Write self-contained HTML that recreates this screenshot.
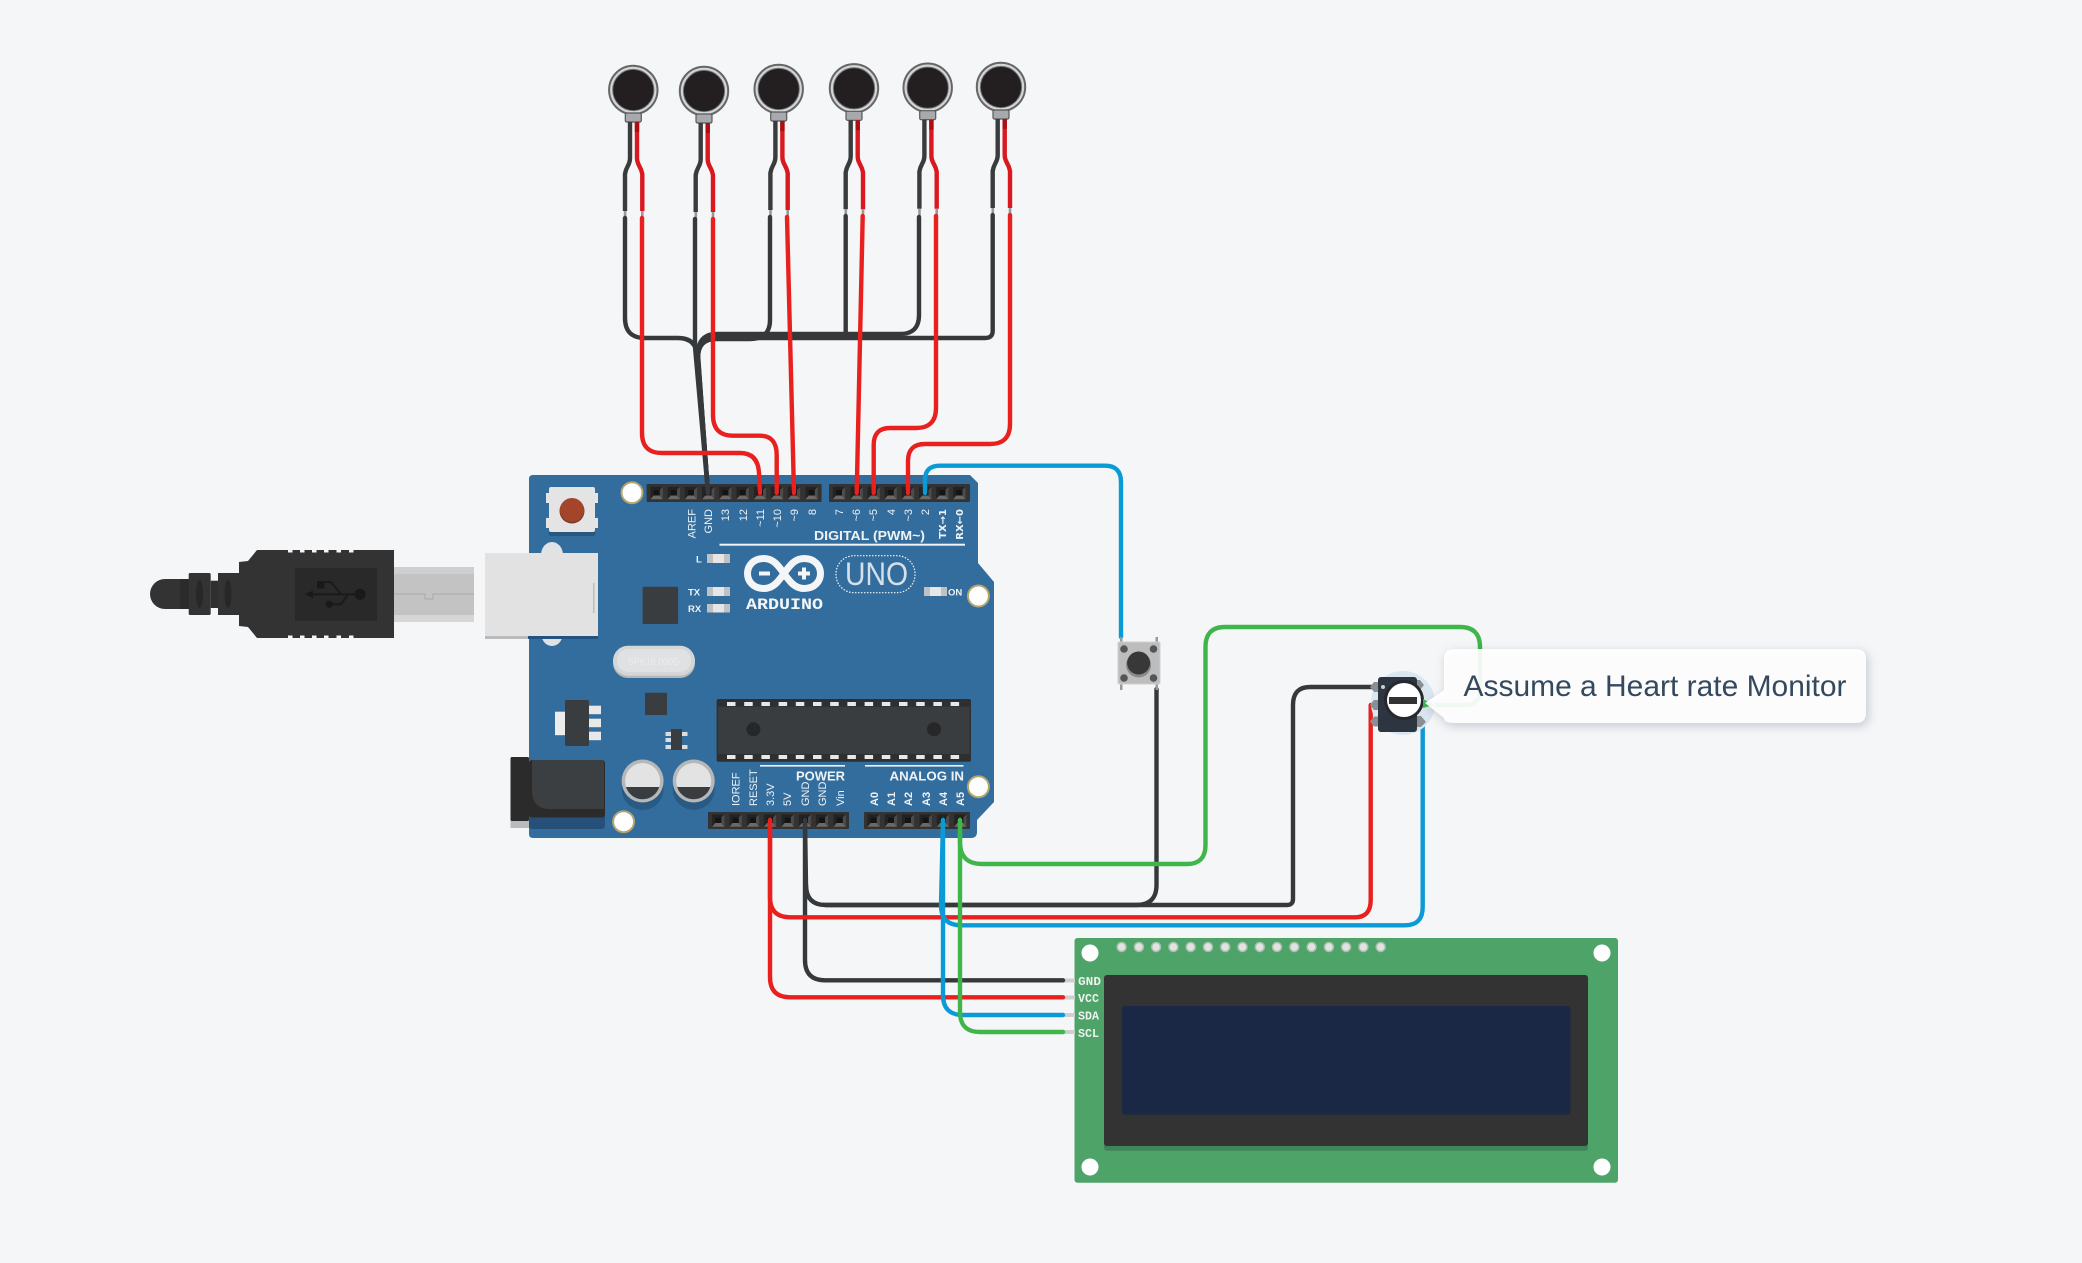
<!DOCTYPE html>
<html>
<head>
<meta charset="utf-8">
<title>Arduino circuit</title>
<style>
html,body{margin:0;padding:0;background:#f4f6f8;width:2082px;height:1263px;overflow:hidden}
svg{display:block;position:absolute;left:0;top:0}
text{font-family:"Liberation Sans",sans-serif}
.w{fill:none;stroke-width:4.4;stroke-linecap:round;stroke-linejoin:round}
.r{stroke:#e8211f}.k{stroke:#36393b}.g{stroke:#3fb54a}.b{stroke:#0a9bd6}
.l{fill:#eef2f5;font-size:11px}
</style>
</head>
<body>
<svg width="2082" height="1263" viewBox="0 0 2082 1263" xmlns="http://www.w3.org/2000/svg">
<defs>
<g id="s">
  <rect x="-6.200" y="-6.200" width="12.400" height="12.400" fill="#232323"/>
  <polygon points="-6.200,6.200 6.200,6.200 3,2.500 -3,2.500" fill="#6a6a6a"/>
  <polygon points="6.200,-6.200 6.200,6.200 3,2.500 3,-3" fill="#4c4c4c"/>
  <rect x="-3" y="-3" width="6" height="5.500" fill="#141414"/>
</g>
<g id="sensor">
  <circle r="24.200" fill="#d4d5d6" stroke="#636567" stroke-width="2"/>
  <circle r="20.600" fill="#231f20" stroke="#6e7072" stroke-width="1"/>
  <rect x="-8" y="23" width="16" height="9" rx="1.500" fill="#a7a9ac" stroke="#58595b" stroke-width="1.200"/>
  <path d="M-3.300 32V68Q-3.300 72 -5.500 76T-8.300 84V121" fill="none" stroke="#3a3b3d" stroke-width="4.400"/>
  <path d="M3.700 32V68Q3.700 72 6 76T9 84V121" fill="none" stroke="#d9181f" stroke-width="4.400"/>
  <path d="M3.700 32V42" fill="none" stroke="#ab0f14" stroke-width="4.400"/>
  <rect x="-9.500" y="121" width="2.600" height="9" fill="#999"/>
  <rect x="7.700" y="121" width="2.600" height="9" fill="#999"/>
</g>
</defs>

<!-- USB plug -->
<rect x="394" y="567" width="80" height="55" fill="#c3c3c3"/>
<rect x="394" y="567" width="80" height="7" fill="#cfcfcf"/>
<rect x="394" y="615" width="80" height="7" fill="#d6d6d6"/>
<path d="M394 594H425V599H433V594H474" fill="none" stroke="#aaa" stroke-width="1"/>
<path d="M188.700 579H165A15 15 0 0 0 165 609H188.700Z" fill="#333"/>
<rect x="180" y="579" width="9" height="30" fill="#2b2b2b"/>
<rect x="188.700" y="573" width="22" height="42" rx="1.500" fill="#333"/>
<rect x="210.700" y="580.700" width="7.300" height="27.300" fill="#2f2f2f"/>
<rect x="218" y="573" width="21" height="42" fill="#333"/>
<ellipse cx="199.500" cy="594" rx="3.500" ry="14" fill="#272727"/>
<ellipse cx="228" cy="594" rx="3.500" ry="14" fill="#272727"/>
<polygon points="257,550 394,550 394,638 257,638 248,627 239,626 239,562 248,561" fill="#333"/>
<rect x="295" y="568" width="82" height="53" fill="#292929"/>
<g fill="#191919" stroke="#191919">
  <path d="M308 594.300H358" stroke-width="1.800" fill="none"/>
  <polygon points="305,594.300 313,590.500 313,598" stroke="none"/>
  <circle cx="360" cy="594.300" r="5.500" stroke="none"/>
  <path d="M325 582H331L341 594.300M333 604.300H341L348 594.300" fill="none" stroke-width="1.800"/>
  <rect x="317" y="581" width="7.500" height="7.500" stroke="none"/>
  <circle cx="329.300" cy="604.300" r="3.700" stroke="none"/>
</g>
<g fill="#f4f6f8">
  <rect x="288" y="550" width="4.500" height="2.500"/><rect x="300" y="550" width="4.500" height="2.500"/><rect x="312" y="550" width="4.500" height="2.500"/><rect x="324" y="550" width="4.500" height="2.500"/><rect x="336.500" y="550" width="4.500" height="2.500"/><rect x="349" y="550" width="4.500" height="2.500"/>
  <rect x="288" y="635.500" width="4.500" height="2.500"/><rect x="300" y="635.500" width="4.500" height="2.500"/><rect x="312" y="635.500" width="4.500" height="2.500"/><rect x="324" y="635.500" width="4.500" height="2.500"/><rect x="336.500" y="635.500" width="4.500" height="2.500"/><rect x="349" y="635.500" width="4.500" height="2.500"/>
</g>

<!-- Board -->
<path d="M533 475H970L978 483V563L994 582V802L977 820V832Q977 838 971 838H533Q529 838 529 834V479Q529 475 533 475Z" fill="#336d9d"/>
<ellipse cx="552" cy="555" rx="11" ry="13" fill="#dfe3e6"/>
<ellipse cx="552" cy="633" rx="11" ry="13" fill="#dfe3e6"/>
<rect x="485" y="553" width="113" height="86" fill="#b9babb"/>
<rect x="485" y="553" width="113" height="83" fill="#e2e2e2"/>
<rect x="528" y="636" width="70" height="3" fill="#23547f"/>
<rect x="593" y="583" width="1.500" height="30" fill="#bdbdbd"/>

<!-- reset -->
<rect x="549" y="492" width="46" height="44" rx="2" fill="#27577f"/>
<rect x="546" y="493" width="3" height="10" fill="#e5e5e5"/><rect x="546" y="518" width="3" height="10" fill="#e5e5e5"/>
<rect x="595" y="493" width="3" height="10" fill="#e5e5e5"/><rect x="595" y="518" width="3" height="10" fill="#e5e5e5"/>
<rect x="549" y="487" width="46" height="45" rx="2" fill="#e4e4e4"/>
<circle cx="572" cy="511" r="12.500" fill="#7d3a2a"/>
<circle cx="572" cy="510" r="12" fill="#a3442b"/>

<!-- holes -->
<g fill="#fff" stroke="#b4a56d" stroke-width="2">
  <circle cx="632" cy="492.700" r="10.500"/>
  <circle cx="978.400" cy="596" r="10.500"/>
  <circle cx="978.400" cy="786.700" r="10.500"/>
  <circle cx="623.600" cy="821.700" r="10.500"/>
</g>

<!-- headers -->
<rect x="646.600" y="484" width="175" height="18" rx="1" fill="#333"/>
<rect x="829" y="484" width="141" height="18" rx="1" fill="#333"/>
<rect x="708" y="812" width="141" height="17" rx="1" fill="#333"/>
<rect x="864" y="812" width="106" height="17" rx="1" fill="#333"/>
<g>
  <use href="#s" x="656.700" y="493"/><use href="#s" x="673.800" y="493"/><use href="#s" x="691" y="493"/><use href="#s" x="708.300" y="493"/><use href="#s" x="725.400" y="493"/><use href="#s" x="742.700" y="493"/><use href="#s" x="760" y="493"/><use href="#s" x="777" y="493"/><use href="#s" x="794" y="493"/><use href="#s" x="811.700" y="493"/>
  <use href="#s" x="839" y="493"/><use href="#s" x="856.700" y="493"/><use href="#s" x="873.700" y="493"/><use href="#s" x="890.700" y="493"/><use href="#s" x="908" y="493"/><use href="#s" x="925.300" y="493"/><use href="#s" x="942.300" y="493"/><use href="#s" x="959.300" y="493"/>
  <use href="#s" x="718.300" y="820.500"/><use href="#s" x="735.700" y="820.500"/><use href="#s" x="753" y="820.500"/><use href="#s" x="770" y="820.500"/><use href="#s" x="787.700" y="820.500"/><use href="#s" x="805" y="820.500"/><use href="#s" x="822" y="820.500"/><use href="#s" x="839.700" y="820.500"/>
  <use href="#s" x="873.700" y="820.500"/><use href="#s" x="891" y="820.500"/><use href="#s" x="908" y="820.500"/><use href="#s" x="925.700" y="820.500"/><use href="#s" x="943" y="820.500"/><use href="#s" x="960.300" y="820.500"/>
</g>

<!-- top pin labels -->
<g class="l" text-anchor="end">
  <text transform="translate(695.500,509) rotate(-90)">AREF</text>
  <text transform="translate(712,509) rotate(-90)">GND</text>
  <text transform="translate(729,509) rotate(-90)">13</text>
  <text transform="translate(747,509) rotate(-90)">12</text>
  <text transform="translate(764,509) rotate(-90)">~11</text>
  <text transform="translate(781,509) rotate(-90)">~10</text>
  <text transform="translate(798,509) rotate(-90)">~9</text>
  <text transform="translate(816,509) rotate(-90)">8</text>
  <text transform="translate(843,509) rotate(-90)">7</text>
  <text transform="translate(860,509) rotate(-90)">~6</text>
  <text transform="translate(877,509) rotate(-90)">~5</text>
  <text transform="translate(895,509) rotate(-90)">4</text>
  <text transform="translate(912,509) rotate(-90)">~3</text>
  <text transform="translate(929,509) rotate(-90)">2</text>
  <text transform="translate(946,509) rotate(-90)" font-weight="bold" style="font-family:'DejaVu Sans',sans-serif;font-size:10px">TX→1</text>
  <text transform="translate(963,509) rotate(-90)" font-weight="bold" style="font-family:'DejaVu Sans',sans-serif;font-size:10px">RX←0</text>
</g>
<text x="814" y="540" class="l" font-weight="bold" style="font-size:13px" textLength="111" lengthAdjust="spacingAndGlyphs">DIGITAL (PWM~)</text>
<rect x="719.500" y="543.700" width="245.500" height="2" fill="#f1f4f7"/>

<!-- bottom labels -->
<g class="l">
  <text transform="translate(739.500,806) rotate(-90)">IOREF</text>
  <text transform="translate(757,806) rotate(-90)">RESET</text>
  <text transform="translate(774,806) rotate(-90)">3.3V</text>
  <text transform="translate(791,806) rotate(-90)">5V</text>
  <text transform="translate(809,806) rotate(-90)">GND</text>
  <text transform="translate(826,806) rotate(-90)">GND</text>
  <text transform="translate(844,806) rotate(-90)">Vin</text>
  <text transform="translate(878,806) rotate(-90)" font-weight="bold">A0</text>
  <text transform="translate(895,806) rotate(-90)" font-weight="bold">A1</text>
  <text transform="translate(912,806) rotate(-90)" font-weight="bold">A2</text>
  <text transform="translate(930,806) rotate(-90)" font-weight="bold">A3</text>
  <text transform="translate(947,806) rotate(-90)" font-weight="bold">A4</text>
  <text transform="translate(964,806) rotate(-90)" font-weight="bold">A5</text>
</g>
<text x="796" y="780.500" class="l" font-weight="bold" style="font-size:13px" textLength="49" lengthAdjust="spacingAndGlyphs">POWER</text>
<text x="889.500" y="780.500" class="l" font-weight="bold" style="font-size:13px" textLength="74.500" lengthAdjust="spacingAndGlyphs">ANALOG IN</text>
<rect x="760" y="765" width="85" height="1.600" fill="#f1f4f7"/>
<rect x="865" y="765" width="98.500" height="1.600" fill="#f1f4f7"/>

<!-- LEDs -->
<g>
  <rect x="707" y="554" width="23" height="9" fill="#bfc1c2"/><rect x="713" y="554" width="11" height="9" fill="#e6e6e6"/>
  <rect x="707" y="587" width="23" height="9" fill="#bfc1c2"/><rect x="713" y="587" width="11" height="9" fill="#e6e6e6"/>
  <rect x="707" y="604" width="23" height="8.500" fill="#bfc1c2"/><rect x="713" y="604" width="11" height="8.500" fill="#e6e6e6"/>
  <rect x="924" y="587" width="23" height="9" fill="#bfc1c2"/><rect x="930" y="587" width="11" height="9" fill="#e6e6e6"/>
</g>
<text x="696" y="562.500" class="l" font-weight="bold" style="font-size:9.500px">L</text>
<text x="688" y="595.500" class="l" font-weight="bold" style="font-size:9.500px">TX</text>
<text x="688" y="612" class="l" font-weight="bold" style="font-size:9.500px">RX</text>
<text x="948" y="595.500" class="l" font-weight="bold" style="font-size:9.500px">ON</text>

<!-- logo -->
<g fill="none" stroke="#f3f5f7" stroke-width="7">
  <path d="M764 558.500C753 558.500 747.500 566 747.500 573.500S753 588.500 764 588.500C773 588.500 778 582 784 573.500S795 558.500 804 558.500C815 558.500 820.500 566 820.500 573.500S815 588.500 804 588.500C795 588.500 790 582 784 573.500S773 558.500 764 558.500Z"/>
</g>
<rect x="759" y="571.500" width="11" height="4" fill="#f3f5f7"/>
<rect x="798" y="571.500" width="12" height="4" fill="#f3f5f7"/><rect x="802" y="567.500" width="4" height="12" fill="#f3f5f7"/>
<text x="746" y="609" fill="#f3f5f7" font-weight="bold" style="font-size:16px;font-family:'Liberation Mono',monospace" textLength="77" lengthAdjust="spacingAndGlyphs">ARDUINO</text>
<rect x="836" y="555.700" width="79" height="37" rx="18" fill="none" stroke="#f3f5f7" stroke-width="1.200" stroke-dasharray="1.500 1.500"/>
<text x="845" y="585" fill="#f3f5f7" fill-opacity=".85" style="font-size:32px" textLength="63" lengthAdjust="spacingAndGlyphs">UNO</text>

<!-- chips -->
<rect x="642.600" y="586.700" width="35.500" height="37.300" rx="1.500" fill="#3a3d40"/>
<rect x="613" y="647" width="82" height="31" rx="15" fill="#b6b9bb"/>
<rect x="613" y="645.700" width="82" height="30" rx="15" fill="#d4d6d8"/>
<rect x="617" y="649" width="74" height="23" rx="11" fill="#dfe1e2"/>
<text x="654" y="665" text-anchor="middle" fill="#ececec" style="font-size:11px" textLength="52" lengthAdjust="spacingAndGlyphs">SPK16.000G</text>
<rect x="645" y="692.700" width="22" height="22.300" rx="1" fill="#3a3d40"/>
<rect x="555" y="711.700" width="10" height="23.500" fill="#ececec"/>
<rect x="589" y="705.700" width="12" height="8.500" fill="#e8e8e8"/>
<rect x="589" y="718.700" width="12" height="8.500" fill="#e8e8e8"/>
<rect x="589" y="731.700" width="12" height="8.500" fill="#e8e8e8"/>
<rect x="565" y="700" width="24" height="46" rx="1.500" fill="#3a3d40"/>
<g fill="#dcdcdc">
  <rect x="665.500" y="732" width="5.500" height="4"/><rect x="665.500" y="738" width="5.500" height="4"/><rect x="665.500" y="745" width="5.500" height="4"/>
  <rect x="682" y="732" width="5.500" height="4"/><rect x="682" y="745" width="5.500" height="4"/>
</g>
<rect x="671" y="729" width="11" height="21" fill="#3a3d40"/>

<!-- ATmega -->
<rect x="716.600" y="699" width="254.400" height="62.700" rx="2" fill="#2d2f31"/>
<rect x="718" y="706.700" width="251.500" height="47.300" fill="#3a3d40"/>
<g fill="#e8e8e8">
  <rect x="727" y="702" width="8.500" height="4"/><rect x="744.200" y="702" width="8.500" height="4"/><rect x="761.400" y="702" width="8.500" height="4"/><rect x="778.600" y="702" width="8.500" height="4"/><rect x="795.800" y="702" width="8.500" height="4"/><rect x="813" y="702" width="8.500" height="4"/><rect x="830.200" y="702" width="8.500" height="4"/><rect x="847.400" y="702" width="8.500" height="4"/><rect x="864.600" y="702" width="8.500" height="4"/><rect x="881.800" y="702" width="8.500" height="4"/><rect x="899" y="702" width="8.500" height="4"/><rect x="916.200" y="702" width="8.500" height="4"/><rect x="933.400" y="702" width="8.500" height="4"/><rect x="950.600" y="702" width="8.500" height="4"/>
  <rect x="727" y="755" width="8.500" height="4"/><rect x="744.200" y="755" width="8.500" height="4"/><rect x="761.400" y="755" width="8.500" height="4"/><rect x="778.600" y="755" width="8.500" height="4"/><rect x="795.800" y="755" width="8.500" height="4"/><rect x="813" y="755" width="8.500" height="4"/><rect x="830.200" y="755" width="8.500" height="4"/><rect x="847.400" y="755" width="8.500" height="4"/><rect x="864.600" y="755" width="8.500" height="4"/><rect x="881.800" y="755" width="8.500" height="4"/><rect x="899" y="755" width="8.500" height="4"/><rect x="916.200" y="755" width="8.500" height="4"/><rect x="933.400" y="755" width="8.500" height="4"/><rect x="950.600" y="755" width="8.500" height="4"/>
</g>
<circle cx="753.400" cy="729.300" r="7" fill="#252729"/>
<circle cx="934" cy="729.300" r="7" fill="#252729"/>

<!-- capacitors -->
<ellipse cx="642.600" cy="789" rx="21" ry="21" fill="#285a84"/>
<ellipse cx="693.700" cy="789" rx="21" ry="21" fill="#285a84"/>
<ellipse cx="642.600" cy="781" rx="21" ry="21.500" fill="#b5b7b8"/>
<ellipse cx="693.700" cy="781" rx="21" ry="21.500" fill="#b5b7b8"/>
<ellipse cx="642.600" cy="781" rx="17.500" ry="18" fill="#e3e3e3"/>
<ellipse cx="693.700" cy="781" rx="17.500" ry="18" fill="#e3e3e3"/>
<path d="M626 787H659.200A17.500 18 0 0 1 626 787Z" fill="#3a3d40"/>
<path d="M677.100 787H710.300A17.500 18 0 0 1 677.100 787Z" fill="#3a3d40"/>

<!-- power jack -->
<rect x="529" y="790" width="76" height="39" rx="3" fill="#26507a"/>
<rect x="510.500" y="820" width="18.500" height="8" fill="#b9babb"/>
<rect x="510.500" y="757" width="18.500" height="64" rx="1.500" fill="#2b2b2b"/>
<rect x="529" y="760" width="76" height="57.500" rx="3" fill="#2b2b2b"/>
<path d="M532 760H602Q604 760 604 763V809H550Q532 809 532 790Z" fill="#3c3f41"/>

<!-- sensors -->
<use href="#sensor" x="633.300" y="90"/>
<use href="#sensor" x="704" y="91"/>
<use href="#sensor" x="778.700" y="89"/>
<use href="#sensor" x="854" y="88.300"/>
<use href="#sensor" x="927.700" y="87.700"/>
<use href="#sensor" x="1001" y="87"/>

<!-- LCD -->
<rect x="1074.500" y="938" width="543.500" height="244.700" rx="3" fill="#4ea369"/>
<rect x="1063" y="978.500" width="12" height="4" fill="#cfcfcf"/>
<rect x="1063" y="995.500" width="12" height="4" fill="#cfcfcf"/>
<rect x="1063" y="1013" width="12" height="4" fill="#cfcfcf"/>
<rect x="1063" y="1030" width="12" height="4" fill="#cfcfcf"/>
<g fill="#fff">
  <circle cx="1090" cy="953" r="8.500"/><circle cx="1602" cy="953" r="8.500"/>
  <circle cx="1090" cy="1167" r="8.500"/><circle cx="1602" cy="1167" r="8.500"/>
</g>
<g fill="#e2e2e2" stroke="#a9bfae" stroke-width="1.500">
  <circle cx="1121.600" cy="947" r="4.500"/><circle cx="1138.900" cy="947" r="4.500"/><circle cx="1156.100" cy="947" r="4.500"/><circle cx="1173.400" cy="947" r="4.500"/><circle cx="1190.700" cy="947" r="4.500"/><circle cx="1208" cy="947" r="4.500"/><circle cx="1225.200" cy="947" r="4.500"/><circle cx="1242.500" cy="947" r="4.500"/><circle cx="1259.800" cy="947" r="4.500"/><circle cx="1277" cy="947" r="4.500"/><circle cx="1294.300" cy="947" r="4.500"/><circle cx="1311.600" cy="947" r="4.500"/><circle cx="1328.900" cy="947" r="4.500"/><circle cx="1346.100" cy="947" r="4.500"/><circle cx="1363.400" cy="947" r="4.500"/><circle cx="1380.700" cy="947" r="4.500"/>
</g>
<rect x="1104" y="980" width="484" height="170.700" rx="3" fill="#3f8558"/>
<rect x="1104" y="975" width="484" height="171" rx="3" fill="#333"/>
<rect x="1122" y="1006" width="448.500" height="108.700" rx="3" fill="#1b2845"/>
<g fill="#f0f2f0">
  <text x="1078" y="985" textLength="23" lengthAdjust="spacingAndGlyphs" font-weight="bold" style="font-family:'Liberation Mono',monospace;font-size:11.500px">GND</text>
  <text x="1078" y="1002" textLength="21" lengthAdjust="spacingAndGlyphs" font-weight="bold" style="font-family:'Liberation Mono',monospace;font-size:11.500px">VCC</text>
  <text x="1078" y="1019.500" textLength="21" lengthAdjust="spacingAndGlyphs" font-weight="bold" style="font-family:'Liberation Mono',monospace;font-size:11.500px">SDA</text>
  <text x="1078" y="1037" textLength="21" lengthAdjust="spacingAndGlyphs" font-weight="bold" style="font-family:'Liberation Mono',monospace;font-size:11.500px">SCL</text>
</g>

<!-- wires -->
<g class="w k">
  <path class="w k" d="M625 218V318Q625 338 645 338H678Q697 338 698 358L708 493"/>
  <path class="w k" d="M695 219V347L708 493"/>
  <path class="w k" d="M770 217V320Q770 339 750 339H716Q698 339 698 358L708 493"/>
  <path class="w k" d="M845.700 216V334"/>
  <path class="w k" d="M919 217V315Q919 334 900 334H717Q698 334 698 354L708 493"/>
  <path class="w k" d="M992.700 215V331Q992.700 338 985 338H717Q698 338 698 358L708 493"/>
  <path class="w k" d="M805 820L806 885Q806 905 826 905H1136Q1156.500 905 1156.500 885V689"/>
  <path class="w k" d="M806 885Q806 905 826 905H1287Q1293 905 1293 899V705Q1293 687 1310 687H1376"/>
  <path class="w k" d="M805 820V960Q805 980.300 825 980.300H1063"/>
</g>
<path class="w r" d="M642 218V433Q642 453 662 453H740Q758 453 759 473L760 493"/>
<path class="w r" d="M713 219V415Q713 435.700 733 435.700H760Q776.700 435.700 776.700 455V493"/>
<path class="w r" d="M787 217L794 493"/>
<path class="w r" d="M862.700 216L856.700 493"/>
<path class="w r" d="M936 216V408Q936 428 916 428H890Q873.700 428 873.700 445V493"/>
<path class="w r" d="M1010 215V424Q1010 444 990 444H925Q908 444 908 461V493"/>
<path class="w b" d="M925 493V480Q925 465.700 940 465.700H1105Q1121 465.700 1121 482V637"/>
<path class="w r" d="M770 820V897Q770 917.300 790 917.300H1355Q1370.700 917.300 1370.700 900V705"/>
<path class="w r" d="M770 820V977Q770 997.300 790 997.300H1063"/>
<path class="w b" d="M943 820L941 905Q941 925.300 961 925.300H1405Q1422.700 925.300 1422.700 907V723"/>
<path class="w b" d="M943 820V995Q943 1015 963 1015H1063"/>
<path class="w g" d="M960 820V842Q960 864 982 864H1187Q1205.500 864 1205.500 845V647Q1205.500 627 1225 627H1460Q1480 627 1480 647V690Q1480 705 1465 705H1427"/>
<path class="w g" d="M960 820V1012Q960 1032 980 1032H1063"/>

<!-- button -->
<rect x="1120" y="637" width="2.500" height="8" fill="#9a9a9a"/><rect x="1155.500" y="637" width="2.500" height="8" fill="#9a9a9a"/>
<rect x="1120" y="682" width="2.500" height="8" fill="#9a9a9a"/><rect x="1155.500" y="682" width="2.500" height="8" fill="#9a9a9a"/>
<rect x="1118" y="642" width="42" height="42" rx="1.500" fill="#bdbdbd" stroke="#d0d0d0"/>
<circle cx="1124" cy="649" r="3.800" fill="#555"/><circle cx="1153.500" cy="649" r="3.800" fill="#555"/>
<circle cx="1124" cy="678" r="3.800" fill="#555"/><circle cx="1153.500" cy="678" r="3.800" fill="#555"/>
<circle cx="1138.600" cy="665" r="12.500" fill="#8a8a8a"/>
<circle cx="1138.600" cy="663" r="11.500" fill="#383838"/>

<!-- potentiometer -->
<circle cx="1403" cy="703" r="32" fill="#dbe6f1"/>
<g fill="#8a8f94">
  <polygon points="1370,687 1374,682 1379,682 1379,692 1374,692"/>
  <polygon points="1370,705 1374,700 1379,700 1379,710 1374,710"/>
  <polygon points="1370,721.500 1374,716.500 1379,716.500 1379,726.500 1374,726.500"/>
  <polygon points="1424,685 1420,680 1415,680 1415,690 1420,690"/>
  <polygon points="1426,722 1421,716 1415,716 1415,727 1421,727"/>
</g>
<rect x="1378" y="677" width="39" height="55" rx="3" fill="#2c3540"/>
<circle cx="1383" cy="687" r="2" fill="#c9ced3"/>
<circle cx="1404" cy="700" r="20" fill="#26282b"/>
<circle cx="1404" cy="700" r="17" fill="#fff"/>
<rect x="1389" y="697" width="28" height="7" fill="#333"/>
<polygon points="1423,699 1434,705 1423,708" fill="#3fb54a"/>

<!-- callout -->
<path d="M1425 703L1444 690V659Q1444 649 1454 649H1856Q1866 649 1866 659V713Q1866 723 1856 723H1454Q1444 723 1444 718Z" fill="#fff" fill-opacity=".93" style="filter:drop-shadow(2px 3px 5px rgba(60,70,90,.28))"/>
<text x="1463.500" y="696" fill="#34495e" style="font-size:30px" textLength="383" lengthAdjust="spacingAndGlyphs">Assume a Heart rate Monitor</text>
</svg>
</body>
</html>
